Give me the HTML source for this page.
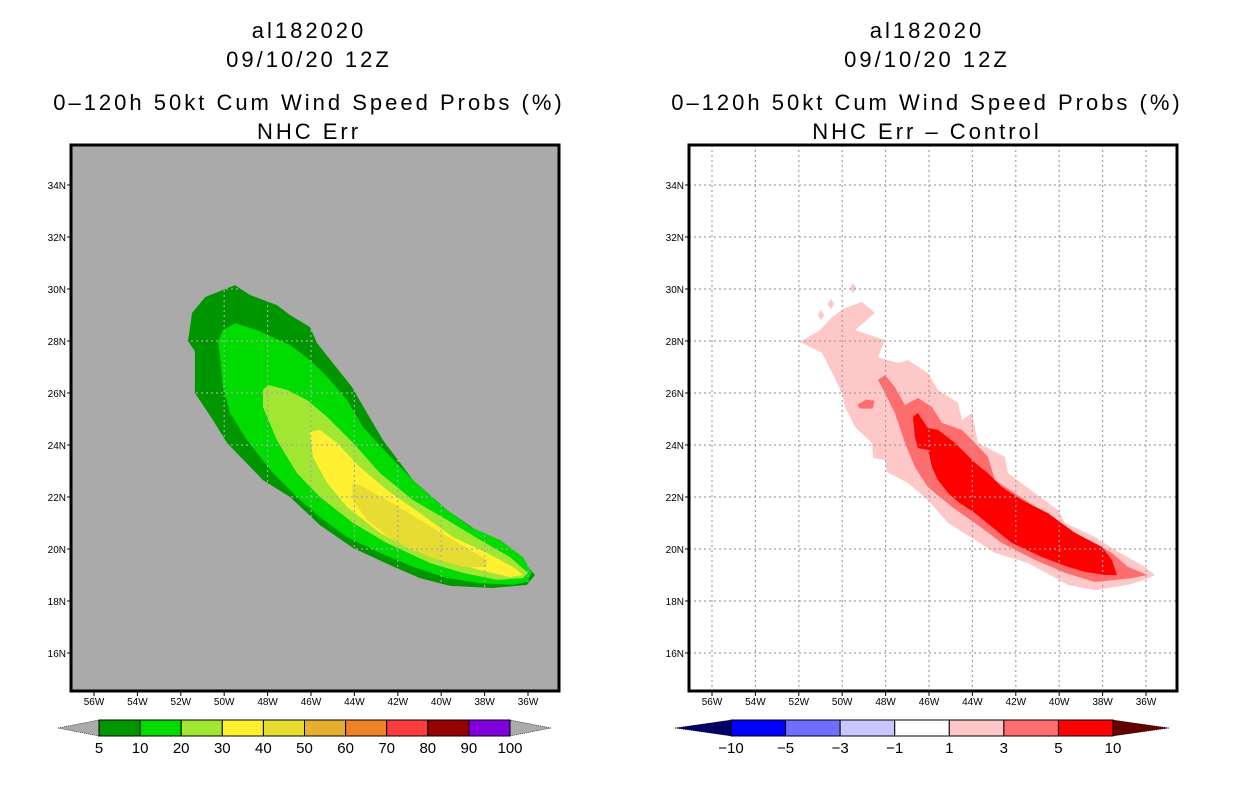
<!DOCTYPE html>
<html><head><meta charset="utf-8">
<style>
html,body{margin:0;padding:0;background:#fff;}
svg{display:block;font-family:"Liberation Sans",sans-serif;}
</style></head>
<body>
<svg id="chart" width="1236" height="800" viewBox="0 0 1236 800" xmlns="http://www.w3.org/2000/svg">
<g font-size="22" letter-spacing="3" text-anchor="middle" fill="#000">
<text x="309" y="38">al182020</text>
<text x="309" y="67">09/10/20 12Z</text>
<text x="309" y="110">0–120h 50kt Cum Wind Speed Probs (%)</text>
<text x="309" y="139">NHC Err</text>
</g>
<g font-size="22" letter-spacing="3" text-anchor="middle" fill="#000">
<text x="927" y="38">al182020</text>
<text x="927" y="67">09/10/20 12Z</text>
<text x="927" y="110">0–120h 50kt Cum Wind Speed Probs (%)</text>
<text x="927" y="139">NHC Err – Control</text>
</g>
<g id="left"></g>
<g id="right"></g>
<g id="cbl"></g>
<g id="cbr"></g>
</svg>
<script>
// ---- data ----
const lonTicks = [-56,-54,-52,-50,-48,-46,-44,-42,-40,-38,-36];
const latTicks = [16,18,20,22,24,26,28,30,32,34];
const probLevels = ["5","10","20","30","40","50","60","70","80","90","100"];
const probColors = ["#009600","#00dc00","#a0e632","#fff032","#e6dc32","#e6af2d","#f08228","#fa3c3c","#960000","#8200dc"];
const diffLevels = ["−10","−5","−3","−1","1","3","5","10"];
const diffColors = ["#0000ff","#6e6eff","#c8c8ff","#ffffff","#ffc8c8","#ff6e6e","#ff0000"];
const prob5 = [[-51.67,28.0],[-51.48,29.08],[-50.88,29.69],[-49.5,30.15],[-48.81,29.77],[-47.57,29.38],[-46.97,29.0],[-46.05,28.54],[-45.72,27.92],[-44.99,27.15],[-44.11,26.23],[-43.42,25.23],[-42.68,24.19],[-41.3,22.65],[-39.73,21.5],[-38.21,20.62],[-36.69,19.96],[-36.0,19.31],[-35.68,19.0],[-36.05,18.62],[-37.66,18.5],[-39.59,18.58],[-40.98,18.88],[-42.36,19.38],[-44.06,20.04],[-45.59,20.92],[-46.97,22.0],[-48.21,22.65],[-49.87,24.08],[-50.52,24.96],[-51.35,26.0],[-51.35,27.6]];
const prob10 = [[-50.29,27.96],[-50.06,28.42],[-49.5,28.69],[-48.49,28.42],[-46.97,27.85],[-46.05,27.27],[-45.26,26.62],[-44.34,25.73],[-43.6,24.69],[-42.5,23.69],[-41.3,22.65],[-39.92,21.62],[-38.67,20.85],[-37.29,20.35],[-36.23,19.69],[-35.82,19.08],[-36.05,18.73],[-36.69,18.62],[-38.21,18.69],[-39.73,18.88],[-41.3,19.31],[-42.82,19.85],[-44.34,20.46],[-45.59,21.23],[-46.65,22.0],[-47.75,22.92],[-48.95,24.19],[-49.73,25.23],[-50.06,26.23],[-50.19,27.38]];
const prob20 = [[-48.21,26.12],[-47.98,26.31],[-47.11,26.12],[-46.18,25.73],[-45.26,25.08],[-44.06,24.08],[-42.82,22.92],[-41.3,21.88],[-39.73,21.12],[-38.21,20.35],[-36.83,19.69],[-36.0,19.08],[-36.23,18.88],[-37.43,18.81],[-39.0,19.08],[-40.52,19.46],[-42.5,20.23],[-44.06,21.0],[-45.59,22.0],[-46.65,22.92],[-47.57,24.19],[-48.21,25.46]];
const prob30 = [[-46.05,24.5],[-45.59,24.58],[-44.8,24.08],[-43.74,23.15],[-42.5,22.27],[-40.98,21.38],[-39.46,20.46],[-37.89,19.85],[-36.69,19.31],[-36.23,19.0],[-36.83,18.92],[-38.21,19.19],[-39.73,19.58],[-41.3,19.96],[-42.82,20.62],[-44.34,21.62],[-45.26,22.54],[-45.91,23.54]];
const prob40 = [[-44.11,22.54],[-43.74,22.46],[-42.5,21.88],[-40.98,21.12],[-39.46,20.35],[-37.89,19.58],[-37.89,19.31],[-38.99,19.31],[-40.52,19.69],[-42.22,20.35],[-43.42,21.12],[-44.06,21.88]];
const diff1 = [[-51.94,27.96],[-51.02,28.42],[-50.47,28.92],[-49.87,29.27],[-49.09,29.5],[-48.49,29.08],[-49.41,28.42],[-48.03,28.04],[-48.35,27.38],[-47.43,27.15],[-46.97,27.27],[-46.05,26.77],[-45.59,26.12],[-44.66,25.62],[-44.48,24.96],[-44.02,25.23],[-43.74,24.08],[-42.5,23.54],[-42.36,22.92],[-41.12,22.15],[-40.06,21.5],[-39.73,21.0],[-38.35,20.46],[-37.43,19.96],[-36.05,19.31],[-35.59,19.0],[-36.05,18.81],[-36.83,18.62],[-38.35,18.42],[-39.59,18.62],[-41.44,19.46],[-42.96,19.85],[-43.88,20.35],[-45.12,21.0],[-46.05,21.88],[-46.97,22.54],[-47.94,22.96],[-48.03,23.42],[-48.58,23.5],[-48.63,24.08],[-49.41,24.69],[-49.87,25.46],[-50.01,26.0],[-50.47,26.77],[-50.93,27.54]];
const diff1Blobs = [[-49.5,30.04],[-50.52,29.42],[-50.98,29.0]];
const diff3 = [[-48.35,26.5],[-48.03,26.69],[-47.57,26.23],[-47.11,25.54],[-46.51,25.81],[-45.86,25.46],[-45.4,24.85],[-44.48,24.58],[-43.88,24.08],[-43.28,23.54],[-42.96,22.65],[-42.04,22.15],[-41.12,21.62],[-39.87,20.85],[-38.67,20.35],[-37.57,19.85],[-36.83,19.31],[-35.95,19.0],[-36.65,18.88],[-38.35,18.73],[-39.73,19.08],[-41.12,19.58],[-42.64,20.23],[-43.88,21.0],[-44.94,21.62],[-46.05,22.38],[-46.65,23.15],[-47.11,24.08],[-47.57,25.23],[-48.03,26.0]];
const diff3Blob = [[-49.3,25.55],[-48.9,25.75],[-48.5,25.7],[-48.6,25.4],[-49.2,25.4]];
const diff5 = [[-46.74,25.08],[-46.51,25.23],[-46.05,24.65],[-45.59,24.58],[-44.8,24.08],[-43.88,23.31],[-43.28,22.92],[-42.64,22.38],[-41.71,21.88],[-40.52,21.38],[-39.27,20.62],[-38.03,20.08],[-37.57,19.58],[-37.34,19.0],[-37.89,19.0],[-38.81,19.12],[-39.59,19.31],[-40.79,19.69],[-42.18,20.23],[-43.1,20.85],[-43.88,21.38],[-44.66,21.81],[-45.12,22.15],[-45.59,22.65],[-45.86,23.15],[-46.05,23.81],[-46.51,23.88],[-46.65,24.31]];

// ---- drawing ----
const NS='http://www.w3.org/2000/svg';
function mk(tag,attrs,parent){const e=document.createElementNS(NS,tag);for(const k in attrs)e.setAttribute(k,attrs[k]);parent.appendChild(e);return e;}
const PX_DEG=21.7, PY_DEG=26;
function panel(g,frameX,lon56X,bg){
  const top=145,bot=691,w=488;
  const xs=lon=>lon56X+(lon+56)*PX_DEG;
  const ys=lat=>185-(lat-34)*PY_DEG;
  const r=mk('rect',{x:frameX,y:top,width:w,height:bot-top,fill:bg},g);
  
  
  return {xs,ys,frameX,top,bot,w};
}
function poly(g,P,pts,fill,name){
  const p=mk('polygon',{points:pts.map(d=>P.xs(d[0]).toFixed(1)+','+P.ys(d[1]).toFixed(1)).join(' '),fill:fill},g);
  
  
}
function axes(g,P,gridColor){
  const gg=mk('g',{},g);
  
  
  lonTicks.forEach(l=>{mk('line',{x1:P.xs(l),x2:P.xs(l),y1:P.top,y2:P.bot,stroke:gridColor,'stroke-width':1.2,'stroke-dasharray':'2 3'},gg);});
  latTicks.forEach(l=>{mk('line',{x1:P.frameX,x2:P.frameX+P.w,y1:P.ys(l),y2:P.ys(l),stroke:gridColor,'stroke-width':1.2,'stroke-dasharray':'2 3'},gg);});
  const f=mk('rect',{x:P.frameX,y:P.top,width:P.w,height:P.bot-P.top,fill:'none',stroke:'#000','stroke-width':3},g);
  
  
  lonTicks.forEach(l=>{
    mk('line',{x1:P.xs(l),x2:P.xs(l),y1:P.bot,y2:P.bot+5,stroke:'#000'},g);
    const t=mk('text',{x:P.xs(l),y:P.bot+14,'font-size':10,'text-anchor':'middle'},g);
    t.textContent=Math.abs(l)+'W';
    
    
  });
  latTicks.forEach(l=>{
    mk('line',{x1:P.frameX-4,x2:P.frameX,y1:P.ys(l),y2:P.ys(l),stroke:'#000'},g);
    const t=mk('text',{x:P.frameX-5,y:P.ys(l)+4,'font-size':10,'text-anchor':'end'},g);
    t.textContent=l+'N';
    
    
  });
}
// left panel
const gl=document.getElementById('left');
const PL=panel(gl,71,94,'#aaaaaa');
poly(gl,PL,prob5,probColors[0],'contour-5pct');
poly(gl,PL,prob10,probColors[1],'contour-10pct');
poly(gl,PL,prob20,probColors[2],'contour-20pct');
poly(gl,PL,prob30,probColors[3],'contour-30pct');
poly(gl,PL,prob40,probColors[4],'contour-40pct');
axes(gl,PL,'#a9a9a9');
// right panel
const gr=document.getElementById('right');
const PR=panel(gr,689,712,'#ffffff');
poly(gr,PR,diff1,diffColors[4],'contour-diff-1');
diff1Blobs.forEach(b=>{
  poly(gr,PR,[[b[0]-0.15,b[1]],[b[0],b[1]+0.2],[b[0]+0.15,b[1]],[b[0],b[1]-0.2]],diffColors[4],'contour-diff-1-blob');
});
poly(gr,PR,diff3,diffColors[5],'contour-diff-3');
poly(gr,PR,diff3Blob,diffColors[5],'contour-diff-3-blob');
poly(gr,PR,diff5,diffColors[6],'contour-diff-5');
axes(gr,PR,'#a0a0a0');
// colorbars
function colorbar(g,x0,x1,tri,colors,labels,lowC,highC){
  const y0=720,y1=736,ym=728;
  const n=colors.length, bw=(x1-x0)/n;
  const l=mk('polygon',{points:`${x0-tri},${ym} ${x0},${y0} ${x0},${y1}`,fill:lowC,stroke:'#000','stroke-width':0.6,'stroke-dasharray':'1 1'},g);
  
  
  const h=mk('polygon',{points:`${x1+tri},${ym} ${x1},${y0} ${x1},${y1}`,fill:highC,stroke:'#000','stroke-width':0.6,'stroke-dasharray':'1 1'},g);
  
  
  colors.forEach((c,i)=>{
    const r=mk('rect',{x:x0+i*bw,y:y0,width:bw,height:y1-y0,fill:c,stroke:'#000','stroke-width':1},g);
    
    
  });
  labels.forEach((s,i)=>{
    const t=mk('text',{x:x0+i*bw,y:753,'font-size':15,'text-anchor':'middle'},g);
    t.textContent=s;
    
    
  });
}
colorbar(document.getElementById('cbl'),99,510,41,probColors,probLevels,'#aaaaaa','#aaaaaa');
colorbar(document.getElementById('cbr'),731,1113,56,diffColors,diffLevels,'#000064','#640000');
</script>
</body></html>
